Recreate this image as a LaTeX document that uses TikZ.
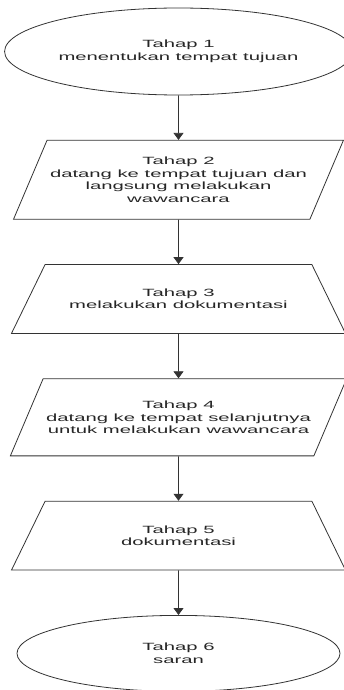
\documentclass[tikz,border=0pt]{standalone}
\usepackage{fontspec}
\setmainfont{Liberation Sans}[FakeStretch=1.93]
\usepackage{tikz}
\usetikzlibrary{shapes,arrows,arrows.meta,positioning}
\tikzstyle{base} = [draw=black!80, line width=0.8pt, align=center, text=black!85, inner xsep=3pt, font=\fontsize{10.5}{12.5}\selectfont]
\tikzstyle{term} = [base, ellipse, minimum width=323pt]
\tikzstyle{para} = [base, trapezium, trapezium left angle=67, trapezium right angle=113, trapezium stretches body=true, minimum width=323pt]
\tikzstyle{trap} = [base, trapezium, trapezium left angle=64, trapezium right angle=64, trapezium stretches body=true, minimum width=334pt]
\tikzstyle{arrow} = [line width=0.8pt, draw=black!80, ->, >={Triangle[width=10pt,length=7pt]}]

\begin{document}
\begin{tikzpicture}[node distance=44.5pt]
    \useasboundingbox (0pt,0pt) rectangle (344pt,-690pt);
    \node[term, minimum height=87pt] (T1) at (178.5pt,-51.5pt) {Tahap 1\\menentukan tempat tujuan};
    \node[para, inner ysep=16.85pt, below=of T1] (T2) {Tahap 2\\datang ke tempat tujuan dan\\langsung melakukan\\wawancara};
    \node[trap, inner ysep=24.35pt, below=of T2] (T3) {Tahap 3\\melakukan dokumentasi};
    \node[para, inner ysep=22.2pt, below=of T3] (T4) {Tahap 4\\datang ke tempat selanjutnya\\untuk melakukan wawancara};
    \node[trap, inner ysep=24.35pt, below=of T4] (T5) {Tahap 5\\dokumentasi};
    \node[term, minimum height=76pt, below=of T5] (T6) {Tahap 6\\saran};
    \draw[arrow] (T1) -- (T2);
    \draw[arrow] (T2) -- (T3);
    \draw[arrow] (T3) -- (T4);
    \draw[arrow] (T4) -- (T5);
    \draw[arrow] (T5) -- (T6);
\end{tikzpicture}
\end{document}
